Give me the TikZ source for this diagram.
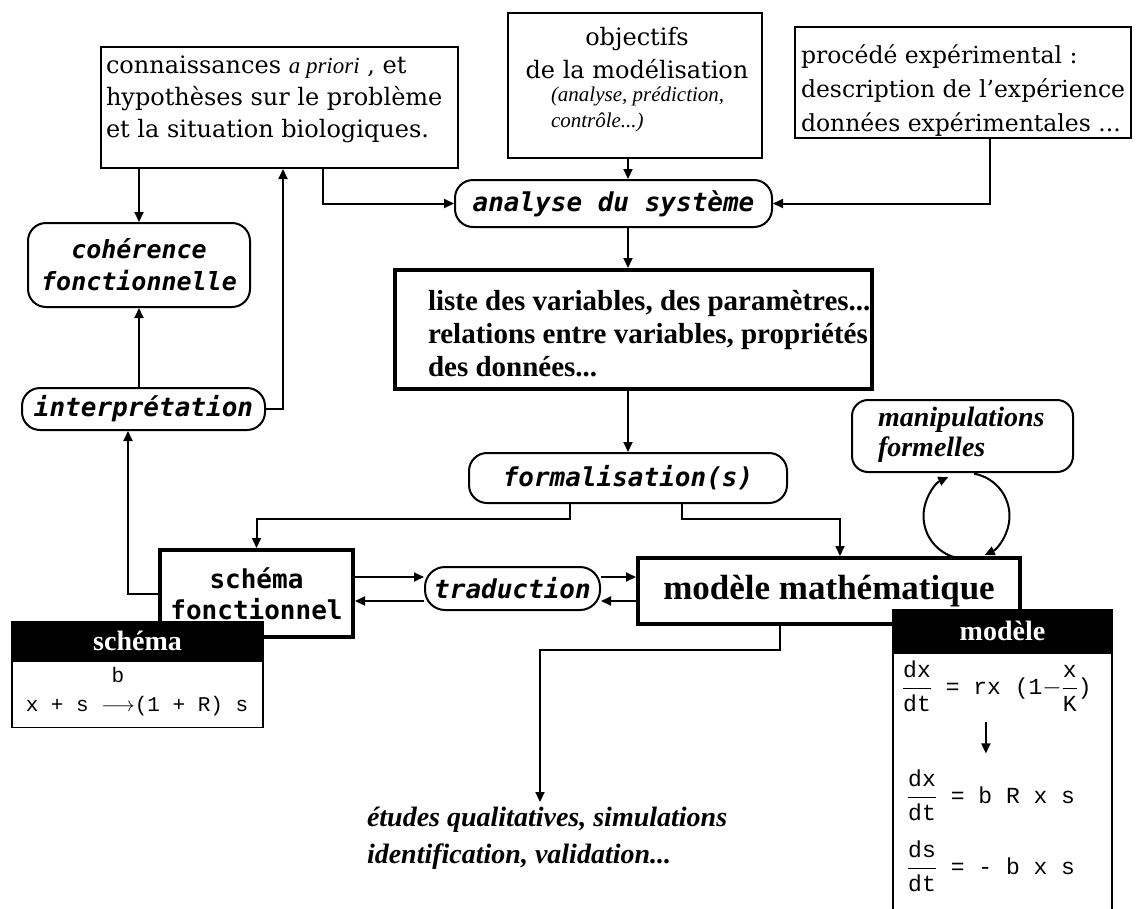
\documentclass[tikz,border=0pt]{standalone}
\usepackage{fontspec}
\setmainfont{DejaVu Serif}
\newfontfamily\tms{Liberation Serif}
\newfontfamily\mono{DejaVu Sans Mono}
\newfontfamily\cour{Liberation Mono}
\usetikzlibrary{arrows.meta}
\newcommand\fsz[2]{\fontsize{#1}{#2}\selectfont}
\newcommand\fr[2]{$\displaystyle\frac{\hbox{#1}}{\hbox{#2}}$}
\begin{document}
\begin{tikzpicture}[x=1pt,y=-1pt,
  line width=2pt,
  arr/.style={-{Triangle[length=10pt,width=9pt]}},
  box/.style={draw, line width=2pt, inner sep=0pt, fill=white},
  tbox/.style={draw, line width=4pt, inner sep=0pt, fill=white},
  pill/.style={draw, line width=2pt, rounded corners=18pt, inner sep=0pt, fill=white, font=\mono\bfseries\itshape\fsz{26}{30}},
  txt/.style={inner sep=0pt, align=left},
  head/.style={fill=black, draw=black, line width=1.5pt, inner sep=0pt, text=white, font=\tms\bfseries\fsz{28}{30}},
  eq/.style={inner sep=0pt, font=\cour\fsz{23}{25}},
]
\useasboundingbox (0,0) rectangle (1138,908);
\fill[white] (0,0) rectangle (1138,908);

% top boxes
\node[box, minimum width=357pt, minimum height=121pt] (know) at (279.5,107.5) {};
\node[txt, anchor=west, font=\fsz{24}{32}] (knowt) at (105,99) {connaissances {\tms\itshape\fsz{23}{24}a priori} , et\\hypothèses sur le problème\\et la situation biologiques.};

\node[box, minimum width=254pt, minimum height=145pt] (obj) at (635,85.5) {};
\node[txt, align=center, font=\fsz{24}{33}] (objt) at (637,53.5) {objectifs\\de la modélisation};
\node[txt, anchor=north west, font=\tms\itshape\fsz{21}{26}] (objs) at (550,86) {(analyse, prédiction,\\ contrôle...)};

\node[box, minimum width=336pt, minimum height=111pt] (proc) at (963,82.5) {};
\node[txt, anchor=west, font=\fsz{23.5}{34}] (proct) at (800,91) {procédé expérimental :\\description de l'expérience\\données expérimentales ...};

% middle
\node[pill, minimum width=317pt, minimum height=47pt] (ana) at (613.5,203.5) {analyse du système};
\node[tbox, minimum width=477pt, minimum height=119pt] (lst) at (633.5,329.5) {};
\node[txt, anchor=west, font=\tms\bfseries\fsz{29}{33}] (lstt) at (427,334) {liste des variables, des paramètres...\\relations entre variables, propriétés\\des données...};
\node[pill, minimum width=318pt, minimum height=50pt] (form) at (628,478) {formalisation(s)};
\node[pill, rounded corners=16pt, minimum width=221pt, minimum height=72pt] (man) at (962.5,436) {};
\node[txt, anchor=west, font=\tms\bfseries\itshape\fsz{28}{30}] (mant) at (877,435) {manipulations\\formelles};

% left column
\node[pill, minimum width=222pt, minimum height=84pt, align=center, font=\mono\bfseries\itshape\fsz{25}{32}] (coh) at (139,265) {cohérence\\fonctionnelle};
\node[pill, minimum width=243pt, minimum height=42pt] (interp) at (143.5,409) {interprétation};

% lower row
\node[tbox, minimum width=193pt, minimum height=87pt, align=center, font=\mono\bfseries\fsz{26}{31}] (schf) at (256.5,593.5) {schéma\\fonctionnel};
\node[pill, rounded corners=20pt, minimum width=175pt, minimum height=43pt] (trad) at (512.5,588.5) {traduction};
\node[tbox, minimum width=382pt, minimum height=66pt, font=\tms\bfseries\fsz{35}{40}] (mm) at (829,591) {modèle mathématique};

% connectors
\draw[arr] (know.south -| coh.north) -- (coh.north);
\draw[arr] (interp.north -| coh.south) -- (coh.south);
\draw[arr] (interp.east) -| ([xshift=3.5pt]know.south);
\draw[arr] ([xshift=43.5pt]know.south) |- (ana.west);
\draw[arr] (obj.south -| form.north) -- (ana.north -| form.north);
\draw[arr] ([xshift=27pt]proc.south) |- (ana.east);
\draw[arr] (ana.south -| form.north) -- (lst.north -| form.north);
\draw[arr] (lst.south -| form.north) -- (form.north);
\draw[arr] ([xshift=-58pt]form.south) -- ++(0,15) -| (schf.north);
\draw[arr] ([xshift=54pt]form.south) -- ++(0,15) -| ([xshift=11pt]mm.north);
\draw[arr] (schf.west) -| ([xshift=-15.5pt]interp.south);
\draw[arr] ([yshift=16.5pt]schf.east) -- ([yshift=11.5pt]trad.west);
\draw[arr] ([yshift=11.5pt]trad.east) -- ([yshift=14pt]mm.west);
\draw[arr] ([yshift=-10pt]mm.west) -- ([yshift=-12.5pt]trad.east);
\draw[arr] ([yshift=-12.5pt]trad.west) -- ([yshift=-7.5pt]schf.east);
\draw[arr] ([xshift=4pt]man.south) ++(0,43) ++(100:43) arc[start angle=100, end angle=245, radius=43];
\draw[arr] ([xshift=4pt]man.south) ++(0,43) ++(280:43) arc[start angle=280, end angle=425, radius=43];

% etudes
\node[txt, anchor=north west, font=\tms\bfseries\itshape\fsz{28}{37}] (etu) at (366,806) {études qualitatives, simulations\\identification, validation...};
\draw[arr] ([xshift=-49pt]mm.south) -- ++(0,24) -| ([xshift=174pt,yshift=4pt]etu.north west);

% schema box
\node[head, minimum width=251pt, minimum height=38pt] (sh) at (137.5,641) {schéma};
\node[box, line width=1.5pt, minimum width=251pt, minimum height=66pt, anchor=north] (sb) at (sh.south) {};
\node[eq, font=\cour\fsz{21}{24}] (sbeq) at (137,706) {x + s $\longrightarrow$(1 + R) s};
\node[eq, font=\cour\fsz{21}{24}] (sbb) at (118,675) {b};

% modele box
\node[head, minimum width=219pt, minimum height=42pt] (mh) at (1002.5,631) {modèle};
\node[box, line width=1.5pt, minimum width=219pt, minimum height=262pt, anchor=north] (mb) at (mh.south) {};
\node[eq, anchor=west] (e1) at (901,686) {\fr{dx}{dt} = rx (1$-$\fr{x}{K})};
\node[eq, anchor=west] (e2) at (906,795) {\fr{dx}{dt} = b R x s};
\node[eq, anchor=west] (e3) at (906,866) {\fr{ds}{dt} = - b x s};
\draw[arr, line width=1.8pt] ([xshift=-11pt,yshift=-10pt]e1.south) -- ++(0,31);
\end{tikzpicture}
\end{document}
